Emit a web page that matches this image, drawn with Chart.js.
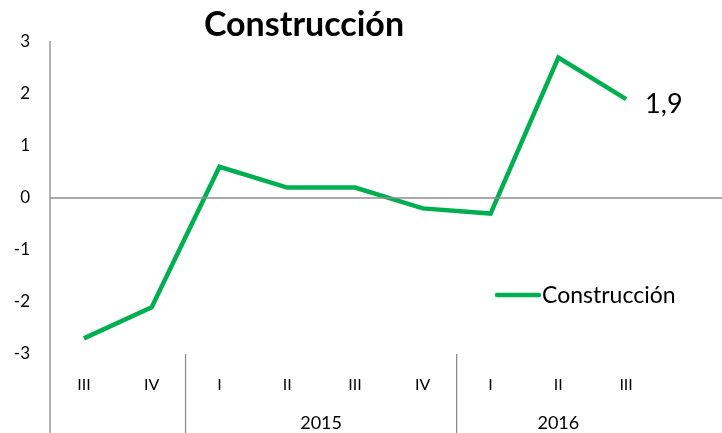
<!DOCTYPE html>
<html>
<head>
<meta charset="utf-8">
<script src="https://cdn.jsdelivr.net/npm/chart.js@4/dist/chart.umd.min.js"></script>
<style>
  html, body { margin: 0; padding: 0; background: #fff; }
  #wrap { width: 722px; height: 433px; }
</style>
</head>
<body>
<div id="wrap"><canvas id="line_chart" width="722" height="433"></canvas></div>
<script>
var quarters = ["III", "IV", "I", "II", "III", "IV", "I", "II", "III"];
var years = [
    { label: "", from: 0, to: 1 },
    { label: "2015", from: 2, to: 5 },
    { label: "2016", from: 6, to: 8 }
];
var construccion = [-2.7, -2.1, 0.6, 0.2, 0.2, -0.2, -0.3, 2.7, 1.9];
var yTicks = [-3, -2, -1, 0, 1, 2, 3];

var green = '#00B050';
var gray = '#8c8c8c';
var font = 'Lato, "Open Sans", sans-serif';

var extras = {
    id: 'extras',
    afterDraw: function (chart) {
        var ctx = chart.ctx;
        var x = chart.scales.x, y = chart.scales.y;
        var area = chart.chartArea;
        var h = chart.height, w = chart.width;
        ctx.save();
        ctx.strokeStyle = gray;
        ctx.lineWidth = 1.3;

        // left axis line down through category rows
        ctx.beginPath();
        ctx.moveTo(area.left, y.getPixelForValue(3) - 1);
        ctx.lineTo(area.left, h);
        ctx.stroke();

        // zero line
        var y0 = y.getPixelForValue(0);
        ctx.beginPath();
        ctx.moveTo(area.left, y0);
        ctx.lineTo(w, y0);
        ctx.stroke();

        // group separators and year labels
        var step = x.getPixelForValue(1) - x.getPixelForValue(0);
        ctx.fillStyle = '#000';
        ctx.font = '18px ' + font;
        ctx.textAlign = 'center';
        ctx.textBaseline = 'middle';
        years.forEach(function (g, i) {
            if (i > 0) {
                var sx = x.getPixelForValue(g.from) - step / 2;
                ctx.beginPath();
                ctx.moveTo(sx, area.bottom);
                ctx.lineTo(sx, h);
                ctx.stroke();
            }
            if (g.label) {
                var cx = (x.getPixelForValue(g.from) + x.getPixelForValue(g.to)) / 2;
                ctx.fillText(g.label, cx, 423);
            }
        });
        ctx.restore();

        // value label on last point
        var meta = chart.getDatasetMeta(0);
        var last = meta.data[meta.data.length - 1];
        ctx.save();
        ctx.fillStyle = '#000';
        ctx.font = '27px ' + font;
        ctx.textAlign = 'left';
        ctx.textBaseline = 'middle';
        ctx.fillText(String(construccion[construccion.length - 1]).replace('.', ','), last.x + 19, last.y + 5);

        // legend
        ctx.strokeStyle = green;
        ctx.lineWidth = 4.5;
        ctx.lineCap = 'round';
        ctx.beginPath();
        ctx.moveTo(497, 295);
        ctx.lineTo(539, 295);
        ctx.stroke();
        ctx.font = '23px ' + font;
        ctx.fillText('Construcción', 542, 296);

        // title
        ctx.font = 'bold 34px ' + font;
        ctx.textAlign = 'center';
        ctx.fillText('Construcción', 304, 25);
        ctx.restore();
    }
};

new Chart(document.getElementById("line_chart").getContext("2d"), {
    type: 'line',
    data: {
        labels: quarters,
        datasets: [{
            label: "Construcción",
            data: construccion,
            borderColor: green,
            borderWidth: 4.5,
            pointRadius: 0,
            tension: 0,
            fill: false
        }]
    },
    options: {
        responsive: false,
        animation: false,
        layout: { padding: { top: 42, right: 62, left: 0, bottom: 0 } },
        plugins: {
            legend: { display: false },
            title: { display: false },
            tooltip: { enabled: false }
        },
        scales: {
            x: {
                offset: true,
                grid: { display: false, drawTicks: false },
                border: { display: false },
                ticks: {
                    color: '#000',
                    font: { family: font, size: 16 },
                    padding: 21,
                    maxRotation: 0,
                    autoSkip: false
                },
                afterFit: function (s) { s.height = 79; }
            },
            y: {
                min: -3,
                max: 3,
                afterBuildTicks: function (s) {
                    s.ticks = yTicks.map(function (v) { return { value: v }; });
                },
                grid: { display: false, drawTicks: false },
                border: { display: false },
                ticks: {
                    color: '#000',
                    font: { family: font, size: 17 },
                    padding: 20
                },
                afterFit: function (s) { s.width = 50; }
            }
        }
    },
    plugins: [extras]
});
</script>
</body>
</html>
